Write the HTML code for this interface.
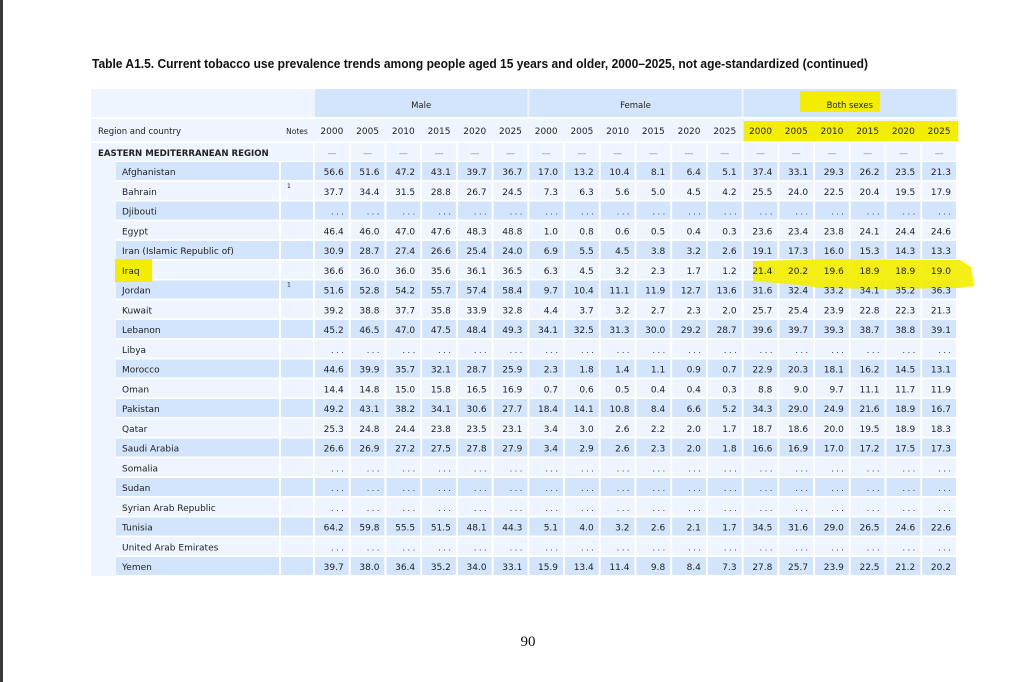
<!DOCTYPE html>
<html><head><meta charset="utf-8">
<style>
html,body{margin:0;padding:0;background:#fff;}
svg{display:block;}
.t{font-family:"DejaVu Sans","Liberation Sans",sans-serif;font-size:9px;fill:#222;}
</style></head>
<body>
<svg id="tbl" width="1031" height="682" viewBox="0 0 1031 682" xmlns="http://www.w3.org/2000/svg">
<rect x="0" y="0" width="3" height="682" fill="#3a3a3a"/>
<text x="92" y="68" textLength="776" lengthAdjust="spacingAndGlyphs" style="font-family:'Liberation Sans',sans-serif;font-weight:bold;font-size:13px;fill:#111">Table A1.5. Current tobacco use prevalence trends among people aged 15 years and older, 2000–2025, not age-standardized (continued)</text>
<text x="528" y="646" text-anchor="middle" style="font-family:'Liberation Serif',serif;font-size:15px;fill:#111">90</text>
<g id="cells"></g>
<g id="hls"></g>
<g id="txt"></g>
</svg>
<script>
const years = ["2000","2005","2010","2015","2020","2025"];
const groups = ["Male","Female","Both sexes"];
const countries = ["Afghanistan","Bahrain","Djibouti","Egypt","Iran (Islamic Republic of)","Iraq","Jordan","Kuwait","Lebanon","Libya","Morocco","Oman","Pakistan","Qatar","Saudi Arabia","Somalia","Sudan","Syrian Arab Republic","Tunisia","United Arab Emirates","Yemen"];
const notes = ["","1","","","","","1","","","","","","","","","","","","","",""];
const male = [
[56.6,51.6,47.2,43.1,39.7,36.7],[37.7,34.4,31.5,28.8,26.7,24.5],null,
[46.4,46.0,47.0,47.6,48.3,48.8],[30.9,28.7,27.4,26.6,25.4,24.0],[36.6,36.0,36.0,35.6,36.1,36.5],
[51.6,52.8,54.2,55.7,57.4,58.4],[39.2,38.8,37.7,35.8,33.9,32.8],[45.2,46.5,47.0,47.5,48.4,49.3],null,
[44.6,39.9,35.7,32.1,28.7,25.9],[14.4,14.8,15.0,15.8,16.5,16.9],[49.2,43.1,38.2,34.1,30.6,27.7],
[25.3,24.8,24.4,23.8,23.5,23.1],[26.6,26.9,27.2,27.5,27.8,27.9],null,null,null,
[64.2,59.8,55.5,51.5,48.1,44.3],null,[39.7,38.0,36.4,35.2,34.0,33.1]];
const female = [
[17.0,13.2,10.4,8.1,6.4,5.1],[7.3,6.3,5.6,5.0,4.5,4.2],null,
[1.0,0.8,0.6,0.5,0.4,0.3],[6.9,5.5,4.5,3.8,3.2,2.6],[6.3,4.5,3.2,2.3,1.7,1.2],
[9.7,10.4,11.1,11.9,12.7,13.6],[4.4,3.7,3.2,2.7,2.3,2.0],[34.1,32.5,31.3,30.0,29.2,28.7],null,
[2.3,1.8,1.4,1.1,0.9,0.7],[0.7,0.6,0.5,0.4,0.4,0.3],[18.4,14.1,10.8,8.4,6.6,5.2],
[3.4,3.0,2.6,2.2,2.0,1.7],[3.4,2.9,2.6,2.3,2.0,1.8],null,null,null,
[5.1,4.0,3.2,2.6,2.1,1.7],null,[15.9,13.4,11.4,9.8,8.4,7.3]];
const both = [
[37.4,33.1,29.3,26.2,23.5,21.3],[25.5,24.0,22.5,20.4,19.5,17.9],null,
[23.6,23.4,23.8,24.1,24.4,24.6],[19.1,17.3,16.0,15.3,14.3,13.3],[21.4,20.2,19.6,18.9,18.9,19.0],
[31.6,32.4,33.2,34.1,35.2,36.3],[25.7,25.4,23.9,22.8,22.3,21.3],[39.6,39.7,39.3,38.7,38.8,39.1],null,
[22.9,20.3,18.1,16.2,14.5,13.1],[8.8,9.0,9.7,11.1,11.7,11.9],[34.3,29.0,24.9,21.6,18.9,16.7],
[18.7,18.6,20.0,19.5,18.9,18.3],[16.6,16.9,17.0,17.2,17.5,17.3],null,null,null,
[34.5,31.6,29.0,26.5,24.6,22.6],null,[27.8,25.7,23.9,22.5,21.2,20.2]];

const NS="http://www.w3.org/2000/svg";
const cellsG=document.getElementById('cells'), txtG=document.getElementById('txt'), hlG=document.getElementById('hls');
const LIGHT="#eef5fe", DARK="#d3e5fc", YEL="#f3ee00";
const X0=315, CW=35.72, ROW0=162, RH=19.75;
function colX(j){return X0+j*CW;}
function rowY(i){return ROW0+i*RH;}
function rect(x,y,w,h,fill,name){const r=document.createElementNS(NS,'rect');r.setAttribute('x',x);r.setAttribute('y',y);r.setAttribute('width',w);r.setAttribute('height',h);r.setAttribute('fill',fill);


cellsG.appendChild(r);return r;}
function text(x,y,s,anchor,name,extra){const t=document.createElementNS(NS,'text');t.setAttribute('x',x);t.setAttribute('y',y);t.setAttribute('class','t');if(anchor)t.setAttribute('text-anchor',anchor);if(extra)t.setAttribute('style',extra);t.textContent=s;


txtG.appendChild(t);return t;}

rect(91,89,867,487,LIGHT,'table-background');
rect(116,143,842,433,"#ffffff",'table-body-gaps');
for(let g=0;g<3;g++){
  const x=colX(g*6), w=6*CW-2;
  rect(x,89,w,28,DARK,'group-header-cell');
  text(x+w/2,108,groups[g],'middle','group-header-'+groups[g].toLowerCase().replace(' ','-'),'font-size:8.5px');
}
rect(91,117,867,2,"#ffffff",'header-gap');
rect(91,119,188,22,LIGHT,'region-header-cell');
rect(281,119,32,22,LIGHT,'notes-header-cell');
text(98,134,'Region and country',null,'region-country-header','font-size:8.5px');
text(297,134,'Notes','middle','notes-header','font-size:7.5px');
for(let j=0;j<18;j++){
  rect(colX(j),119,CW-2,22,LIGHT,'year-header-cell');
  text(colX(j)+(CW-2)/2,134,years[j%6],'middle','year-header-'+years[j%6]);
}
rect(91,141,867,2,"#ffffff",'region-gap');
rect(91,143,222,18,LIGHT,'region-row-cell');
text(98,156,'EASTERN MEDITERRANEAN REGION',null,'region-name','font-weight:bold;font-size:8.6px');
for(let j=0;j<18;j++){
  rect(colX(j),143,CW-2,18,LIGHT,'region-value-cell');
  text(colX(j)+(CW-2)/2,156,'—','middle','region-dash','fill:#888');
}
rect(91,161,25,415,LIGHT,'indent-column');
function hl(x,y,w,h,name){const r=document.createElementNS(NS,'rect');r.setAttribute('x',x);r.setAttribute('y',y);r.setAttribute('width',w);r.setAttribute('height',h);r.setAttribute('fill',YEL);


hlG.appendChild(r);}
hl(800,91,80,21,'highlight-both-sexes');
hl(colX(12),121,958-colX(12),20,'highlight-both-years');
hl(115,259,37,23,'highlight-iraq');
const p=document.createElementNS(NS,'path');
p.setAttribute('d','M753,261 L825,259 L960,260 L971,267 L974,286 L960,288 L880,289 L820,288 L800,285 L753,281 Z');
p.setAttribute('fill',YEL);p.setAttribute('fill-opacity','0.92');


hlG.appendChild(p);

const series=[male,female,both];
countries.forEach((c,i)=>{
  const y=rowY(i), fill=(i%2===0)?DARK:LIGHT, h=18;
  rect(116,y,163,h,fill,'country-cell');
  rect(281,y,32,h,fill,'notes-cell');
  text(122,y+13,c,null,'country-'+c.toLowerCase().replace(/[^a-z]+/g,'-'));
  if(notes[i]) text(287,y+6,notes[i],null,'note-marker','font-size:6px');
  for(let g=0;g<3;g++){
    const vals=series[g][i];
    for(let k=0;k<6;k++){
      const j=g*6+k, x=colX(j);
      rect(x,y,CW-2,h,fill,'value-cell');
      if(vals) text(x+CW-2-5,y+13,vals[k].toFixed(1),'end','value-'+groups[g].toLowerCase().replace(' ','-')+'-'+years[k]);
      else text(x+CW-2-5,y+13,'. . .','end','missing-value','font-size:8px');
    }
  }
});
</script>
</body></html>
